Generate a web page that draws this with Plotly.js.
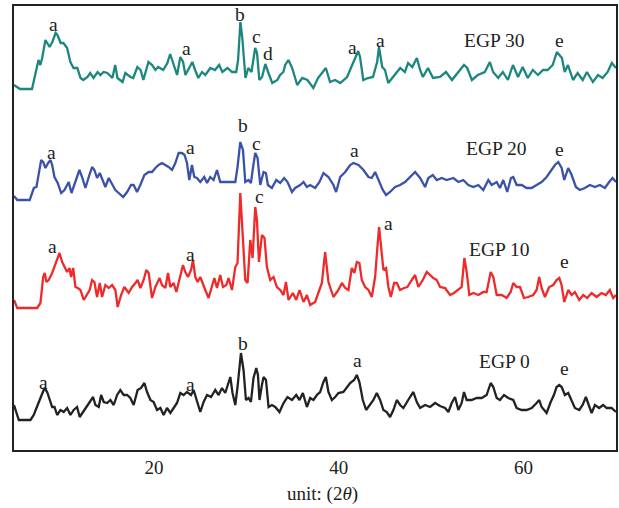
<!DOCTYPE html>
<html>
<head>
<meta charset="utf-8">
<script src="https://cdn.plot.ly/plotly-3.0.1.min.js"></script>
<style>
  html, body { margin: 0; padding: 0; background: #fff; }
  #chart { width: 619px; height: 508px; }
</style>
</head>
<body>
<div id="chart"></div>
<script>
// XRD patterns of the EGP samples, 2θ in degrees vs. relative intensity.

const egp30Theta = [4.85,5.5,6.8,7.0,7.25,7.5,7.7,7.9,8.25,8.45,8.7,9.0,9.35,9.55,9.9,10.2,10.6,10.95,11.3,11.7,12.05,12.35,12.8,13.1,13.45,13.9,14.2,14.55,14.95,15.5,15.8,16.05,16.6,16.9,17.45,17.75,18.2,18.55,18.85,19.4,19.8,20.15,20.45,21.0,21.45,21.75,22.1,22.5,22.85,23.15,23.4,23.7,24.15,24.45,24.8,25.2,25.55,26.1,26.6,27.05,27.4,27.95,28.45,28.9,29.1,29.35,29.55,29.9,30.2,30.55,30.95,31.15,31.4,31.7,32.05,32.35,32.8,33.35,33.65,34.0,34.2,34.55,34.95,35.5,36.05,36.6,37.25,37.75,38.3,38.6,39.05,39.6,40.15,40.9,41.45,41.75,42.1,42.3,42.65,43.15,43.7,44.15,44.35,44.7,45.0,45.35,45.9,46.65,47.15,47.5,47.95,48.45,48.8,49.1,49.65,50.2,50.95,51.6,52.25,52.9,53.55,53.9,54.4,55.05,55.8,56.35,56.7,57.25,57.75,58.3,58.85,59.4,59.9,60.45,61.0,61.55,62.1,62.6,63.15,63.6,64.15,64.45,64.8,65.35,65.85,66.4,66.85,67.5,68.05,68.55,69.1,69.55,70.0];
const egp30Int = [4,0,0,9,19,29,24,31,49,46,42,47,56,54,46,46,41,27,21,21,11,9,12,16,11,17,14,17,16,11,24,11,7,16,12,11,22,19,9,27,24,19,22,19,26,35,24,14,32,27,14,19,27,19,11,17,14,21,19,24,17,21,17,17,29,67,52,11,21,17,41,36,9,12,25,17,6,9,14,17,24,29,21,4,11,9,1,11,17,21,7,9,6,12,24,31,38,32,9,11,12,27,42,22,19,6,12,21,17,26,22,31,19,12,21,11,12,17,9,17,24,21,9,14,17,27,17,11,17,9,24,12,22,11,19,14,19,19,24,37,31,17,24,9,16,9,17,7,14,11,17,26,21];

const egp20Theta = [4.85,5.2,6.55,6.82,7.0,7.28,7.53,7.79,8.01,8.25,8.55,8.8,8.98,9.23,9.58,9.95,10.31,10.77,11.07,11.5,11.93,12.22,12.58,12.94,13.3,13.55,13.84,14.13,14.45,14.74,15.1,15.47,15.82,16.18,16.66,17.09,17.52,17.8,18.17,18.52,18.96,19.42,19.79,20.15,20.5,20.87,21.23,21.58,21.95,22.31,22.67,23.03,23.31,23.57,23.82,24.11,24.36,24.65,25.01,25.44,25.74,26.09,26.45,26.82,27.17,27.71,28.44,28.8,29.04,29.34,29.63,29.88,30.23,30.49,30.71,30.96,31.21,31.5,31.86,32.11,32.33,32.76,33.23,33.66,34.09,34.45,34.93,35.28,35.82,36.18,36.55,36.9,37.44,37.91,38.34,38.88,39.42,39.71,40.15,40.69,41.23,41.59,42.13,42.67,43.21,43.57,43.93,44.29,44.76,45.12,45.55,46.09,46.63,47.17,47.71,48.26,48.8,49.34,49.69,50.17,50.6,51.14,51.68,52.4,52.94,53.48,54.02,54.56,55.1,55.64,56.18,56.55,57.09,57.44,57.8,58.23,58.63,58.88,59.25,59.79,60.33,60.87,61.41,61.95,62.49,63.03,63.39,63.75,64.12,64.4,64.83,65.2,65.66,66.09,66.63,67.17,67.72,68.26,68.8,69.26,69.63,70.0];
const egp20Int = [4,0,0,8,12,13,28,40,38,32,37,40,35,23,17,7,10,18,7,18,30,23,12,23,33,30,22,27,20,13,22,15,10,7,3,8,15,15,8,15,25,28,28,32,35,37,35,33,30,37,47,47,45,37,20,35,23,22,18,23,17,23,20,30,18,18,18,18,33,58,50,18,20,17,32,47,42,15,28,27,15,12,20,17,22,18,8,12,15,18,13,15,12,18,27,23,15,8,23,28,35,37,35,30,23,22,28,20,10,5,8,13,15,18,23,28,22,13,22,25,20,22,20,22,18,20,15,13,15,10,20,15,18,12,20,8,22,23,15,15,12,12,15,18,23,30,35,38,32,20,32,25,13,10,12,15,13,15,12,18,22,18];

const egp10Theta = [4.85,5.2,7.36,7.71,8.01,8.18,8.36,8.61,8.98,9.34,9.58,9.77,10.06,10.31,10.6,10.85,11.03,11.25,11.5,11.75,12.04,12.4,12.76,13.04,13.3,13.55,13.84,14.13,14.38,14.74,15.1,15.47,15.82,16.07,16.44,16.79,17.26,17.63,17.99,18.23,18.53,18.88,19.17,19.42,19.79,20.15,20.61,20.87,21.23,21.52,21.77,22.13,22.42,22.67,23.14,23.39,23.68,24.01,24.22,24.47,24.72,25.01,25.3,25.55,25.91,26.28,26.53,26.82,27.17,27.47,27.82,28.07,28.44,28.8,29.04,29.34,29.63,29.88,30.13,30.42,30.67,30.96,31.14,31.36,31.68,31.96,32.22,32.58,32.94,33.3,33.66,34.02,34.28,34.56,35.03,35.39,35.75,36.18,36.55,36.9,37.44,37.8,38.17,38.52,38.88,39.42,39.96,40.33,40.69,41.04,41.41,41.69,41.95,42.23,42.49,42.85,43.21,43.57,43.93,44.18,44.36,44.58,44.83,45.12,45.37,45.63,45.99,46.28,46.63,47.06,47.42,47.9,48.26,48.61,49.09,49.52,49.88,50.23,50.6,50.96,51.5,52.04,52.47,52.94,53.3,53.59,53.84,54.13,54.56,55.1,55.64,56.0,56.44,56.72,57.09,57.63,58.17,58.6,58.88,59.25,59.61,60.04,60.5,61.04,61.41,61.69,61.95,62.31,62.77,63.21,63.57,63.86,64.11,64.4,64.83,65.2,65.55,66.02,66.45,66.88,67.36,67.9,68.44,68.9,69.33,69.69,70.0];
const egp10Int = [8,0,0,5,31,35,26,28,35,45,50,55,46,41,36,40,31,40,21,20,18,8,13,18,28,26,11,25,11,23,20,23,18,1,13,21,15,21,25,28,20,28,38,35,10,21,30,23,20,35,21,25,16,26,43,36,31,38,48,31,26,31,23,18,10,21,30,20,33,21,23,30,18,41,45,115,61,28,25,68,50,101,88,46,73,70,41,28,31,21,18,13,26,8,15,8,18,6,13,3,6,16,25,56,26,11,18,25,20,18,40,35,46,45,28,21,18,11,31,61,81,61,38,40,21,11,25,25,18,20,21,28,33,21,28,36,33,30,28,21,20,13,15,18,21,50,36,13,15,13,16,16,36,31,13,13,10,16,25,21,21,10,11,13,18,31,20,11,21,23,28,30,23,6,18,13,16,8,13,10,15,11,15,13,18,10,13];

const egp0Theta = [4.85,5.37,6.63,6.99,7.28,7.64,7.9,8.15,8.44,8.72,8.98,9.23,9.52,9.88,10.23,10.6,10.96,11.31,11.68,11.96,12.33,12.76,13.12,13.41,13.66,14.02,14.28,14.56,14.93,15.28,15.64,16.01,16.36,16.72,17.09,17.44,17.8,18.23,18.6,18.96,19.25,19.61,19.96,20.33,20.69,21.04,21.41,21.77,22.13,22.49,22.85,23.21,23.57,24.01,24.29,24.65,25.01,25.37,25.74,26.17,26.63,26.99,27.36,27.71,28.07,28.26,28.5,28.8,29.04,29.41,29.69,29.95,30.23,30.49,30.77,31.07,31.25,31.42,31.68,31.86,32.12,32.4,32.76,33.12,33.58,34.02,34.45,34.93,35.39,35.75,36.11,36.55,36.9,37.26,37.63,37.98,38.34,38.6,38.88,39.25,39.61,39.96,40.5,40.87,41.23,41.66,41.95,42.23,42.6,42.96,43.32,43.75,44.11,44.47,44.83,45.19,45.55,45.91,46.28,46.63,46.99,47.36,47.71,48.07,48.44,48.8,49.34,49.88,50.42,50.96,51.5,51.86,52.22,52.58,52.94,53.3,53.55,53.84,54.38,54.92,55.46,56.0,56.44,56.72,57.09,57.44,57.88,58.34,58.88,59.25,59.79,60.33,60.87,61.41,61.69,61.95,62.49,62.93,63.28,63.57,63.86,64.12,64.47,64.83,65.2,65.55,66.02,66.39,66.74,66.99,67.36,67.72,68.18,68.61,68.98,69.52,70.0];
const egp0Int = [15,0,0,5,12,20,25,32,28,20,13,13,5,10,8,12,5,10,13,3,8,15,20,23,15,13,25,18,17,20,15,25,30,25,25,22,15,30,32,37,28,20,18,10,12,5,12,7,12,17,27,25,28,25,30,18,8,18,25,23,30,25,32,27,37,43,27,15,33,67,50,20,22,18,42,52,45,20,35,43,40,13,15,13,8,17,23,20,25,20,27,13,22,20,25,28,38,43,28,20,23,27,28,33,37,40,45,38,20,10,15,20,27,20,10,8,3,10,20,15,12,17,23,28,18,12,15,13,17,14,12,8,17,23,10,17,28,20,20,22,22,25,37,33,22,20,25,22,20,12,10,10,12,17,20,13,7,18,25,33,35,33,25,27,20,12,10,15,23,17,7,15,12,15,12,12,8];

// Samples from top to bottom, each lifted by its own stacking offset
const sampleNames = ['EGP 30', 'EGP 20', 'EGP 10', 'EGP 0'];
const sampleTheta = [egp30Theta, egp20Theta, egp10Theta, egp0Theta];
const sampleInt = [egp30Int, egp20Int, egp10Int, egp0Int];
const sampleOffset = [361, 250, 142, 30];
const sampleColor = ['#1b877f', '#3a52a8', '#ee2a2a', '#222222'];

// Phase labels over the peaks: [text, 2θ, height]
const peakLabels = [
  ['a', 9.12, 426], ['a', 23.5, 402], ['b', 29.34, 436], ['c', 31.07, 414], ['d', 32.36, 397],
  ['a', 41.45, 403], ['a', 44.47, 410], ['e', 63.93, 410], ['EGP 30', 56.8, 410],
  ['a', 8.87, 298], ['a', 23.93, 303], ['b', 29.66, 325], ['c', 31.07, 307], ['a', 41.66, 300],
  ['e', 63.93, 301], ['EGP 20', 57.12, 302],
  ['a', 8.98, 204], ['a', 24.0, 196], ['c', 31.44, 254], ['a', 45.37, 227], ['e', 64.47, 189],
  ['EGP 10', 57.44, 201],
  ['a', 8.0, 68], ['a', 24.0, 66], ['b', 29.63, 107], ['a', 42.02, 90], ['e', 64.47, 82],
  ['EGP 0', 57.88, 89]
];

const xTicks = [20, 40, 60];

const serif = 'Liberation Serif, Times New Roman, serif';

const traces = sampleNames.map((name, i) => ({
  type: 'scatter',
  mode: 'lines',
  name: name,
  x: sampleTheta[i],
  y: sampleInt[i].map(v => v + sampleOffset[i]),
  line: { color: sampleColor[i], width: 2.3 },
  hoverinfo: 'x+name'
}));

const annotations = peakLabels.map(([text, x, y]) => ({
  text: text, x: x, y: y, xref: 'x', yref: 'y',
  showarrow: false, xanchor: 'center', yanchor: 'middle',
  font: { family: serif, size: 19.5, color: '#222' }
}));

annotations.push({
  text: 'unit: (2<i>θ</i>)', xref: 'paper', yref: 'paper',
  x: 0.513, y: -0.1, xanchor: 'center', yanchor: 'middle', showarrow: false,
  font: { family: serif, size: 19, color: '#222' }
});

const layout = {
  width: 619, height: 508,
  margin: { l: 14, r: 3, t: 6, b: 58 },
  paper_bgcolor: '#fff', plot_bgcolor: '#fff',
  showlegend: false,
  xaxis: {
    range: [4.85, 70], tickvals: xTicks, ticks: '',
    showgrid: false, zeroline: false,
    showline: true, mirror: true, linecolor: '#222', linewidth: 1.6,
    tickfont: { family: serif, size: 19, color: '#222' }
  },
  yaxis: {
    range: [0, 444], showticklabels: false, ticks: '',
    showgrid: false, zeroline: false,
    showline: true, mirror: true, linecolor: '#222', linewidth: 1.6
  },
  annotations: annotations
};

Plotly.newPlot('chart', traces, layout, { staticPlot: true, displayModeBar: false });
</script>
</body>
</html>
